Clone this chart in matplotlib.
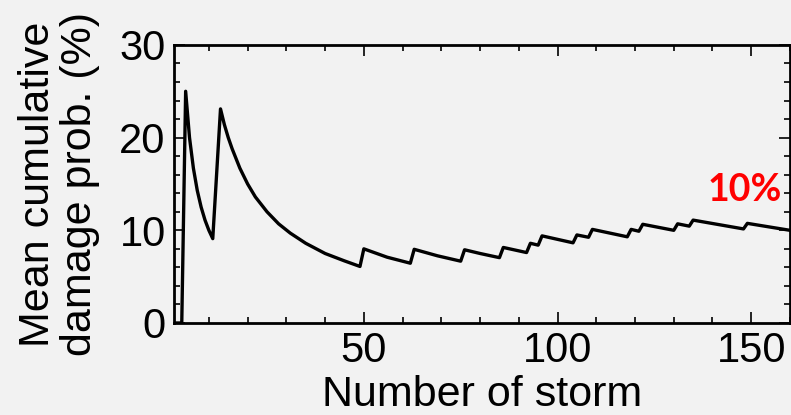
import matplotlib
matplotlib.use('Agg')
import matplotlib.pyplot as plt
from matplotlib.ticker import MultipleLocator

# values
storm = [1, 2, 3, 4, 5, 6, 7, 8, 9, 10, 11,
         13, 14, 15, 16, 18, 20, 22, 25, 28, 31, 35, 40, 45, 49,
         50, 56, 62, 63, 69, 75, 76, 80, 85, 86, 92, 93, 95, 96,
         104, 105, 108, 109, 118, 119, 121, 122, 130, 131, 134, 135,
         148, 149, 160]
damage_prob = [0, 0, 0, 25.0, 20.0, 16.7, 14.3, 12.5, 11.1, 10.0, 9.1,
               23.1, 21.4, 20.0, 18.8, 16.7, 15.0, 13.6, 12.0, 10.7, 9.7,
               8.6, 7.5, 6.7, 6.1,
               8.0, 7.1, 6.45, 7.95, 7.25, 6.67, 7.9, 7.5, 7.05, 8.15,
               7.6, 8.6, 8.4, 9.4,
               8.65, 9.5, 9.25, 10.1, 9.3, 10.1, 9.9, 10.65, 10.0, 10.7,
               10.45, 11.1, 10.15, 10.75, 10.0]

x_ticks = [50, 100, 150]
y_ticks = [0, 10, 20, 30]
note_txt = '10%'

plt.rcParams['font.family'] = ['Liberation Sans', 'DejaVu Sans']

fig = plt.figure(figsize=(7.91, 4.15), dpi=100)
fig.patch.set_facecolor('#f2f2f2')
ax = fig.add_axes([0.22, 0.2217, 0.7787, 0.67])
ax.set_facecolor('#f2f2f2')

ax.plot(storm, damage_prob, color='black', lw=2.4, clip_on=True)

ax.set_xlim(1, 160)
ax.set_ylim(0, 30)
ax.set_xticks(x_ticks)
ax.set_yticks(y_ticks)
ax.xaxis.set_minor_locator(MultipleLocator(10))
ax.yaxis.set_minor_locator(MultipleLocator(2))

ax.tick_params(which='both', direction='in', top=True, right=True,
               labelsize=30, width=1.2, color='black')
ax.tick_params(which='major', length=8, pad=6)
ax.tick_params(which='minor', length=4)
for sp in ax.spines.values():
    sp.set_linewidth(2.0)

ax.set_xlabel('Number of storm', fontsize=31, labelpad=3)
ax.set_ylabel('Mean cumulative\ndamage prob. (%)', fontsize=31,
              linespacing=1.05, labelpad=14)

ax.text(148.4, 14.4, note_txt, color='red', fontsize=27, weight='bold',
        family=['Lato', 'DejaVu Sans'], ha='center', va='center')

fig.savefig('out.png', dpi=100, facecolor=fig.get_facecolor())
